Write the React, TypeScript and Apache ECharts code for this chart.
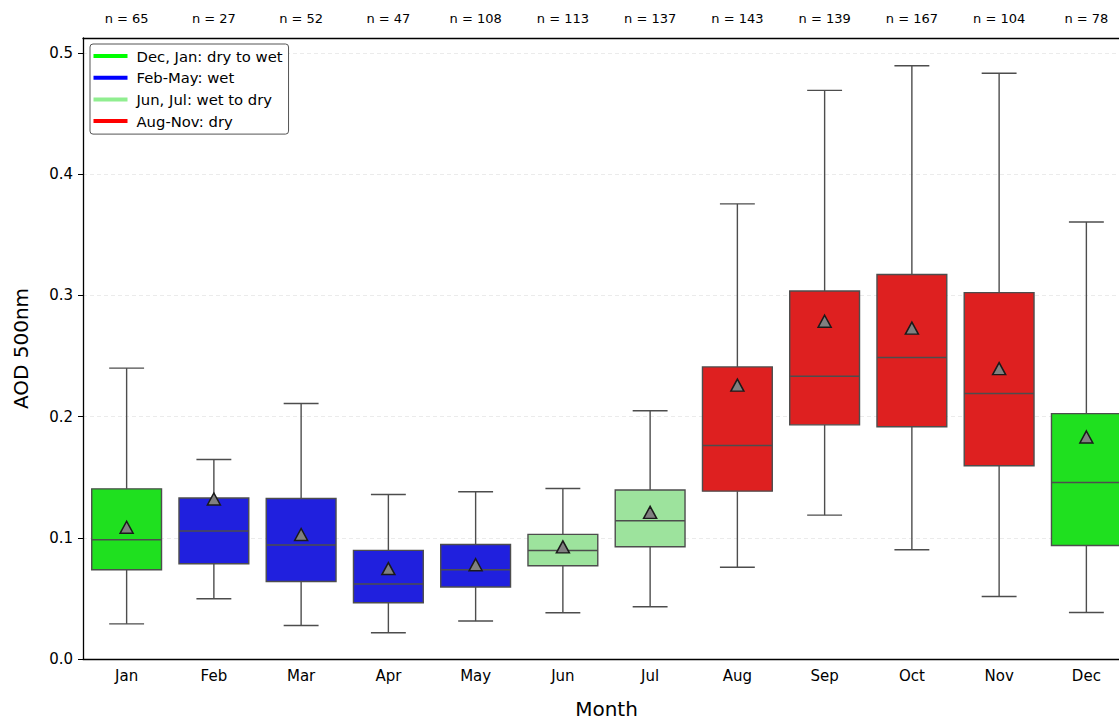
import React, { useEffect, useRef } from "react";
import * as echarts from "echarts";

const months = ["Jan", "Feb", "Mar", "Apr", "May", "Jun", "Jul", "Aug", "Sep", "Oct", "Nov", "Dec"];
const nCounts = [65, 27, 52, 47, 108, 113, 137, 143, 139, 167, 104, 78];
const whiskerLow = [0.029, 0.0497, 0.0277, 0.0217, 0.0313, 0.0382, 0.0431, 0.0757, 0.1187, 0.0901, 0.0516, 0.0384];
const q1 = [0.0736, 0.0786, 0.064, 0.0464, 0.0594, 0.077, 0.0926, 0.1385, 0.1932, 0.1916, 0.1594, 0.0937];
const medians = [0.0984, 0.1056, 0.094, 0.0618, 0.0736, 0.0896, 0.114, 0.1762, 0.2334, 0.2487, 0.219, 0.1456];
const q3 = [0.1404, 0.1328, 0.1324, 0.0896, 0.0945, 0.1028, 0.1394, 0.241, 0.3037, 0.3172, 0.3023, 0.2025];
const whiskerHigh = [0.24, 0.1646, 0.2108, 0.1357, 0.138, 0.1407, 0.2048, 0.3755, 0.4692, 0.4895, 0.4833, 0.3606];
const means = [0.1087, 0.132, 0.1027, 0.0746, 0.0778, 0.0925, 0.121, 0.226, 0.2787, 0.273, 0.2396, 0.1832];
const seasonOfMonth = [0, 1, 1, 1, 1, 2, 2, 3, 3, 3, 3, 0];
const seasonNames = ["Dec, Jan: dry to wet", "Feb-May: wet", "Jun, Jul: wet to dry", "Aug-Nov: dry"];
const legendColors = ["#00ff00", "#0000ff", "#90ee90", "#ff0000"];
const boxColors = ["#1fe01f", "#2020de", "#9de39d", "#de2020"];
const yTicks = [0, 0.1, 0.2, 0.3, 0.4, 0.5];

const FONT = "DejaVu Sans";
const EDGE = "#4d4d4d";

export default function App() {
  const ref = useRef<HTMLDivElement>(null);
  useEffect(() => {
    if (!ref.current) return;
    const chart = echarts.init(ref.current, null, { renderer: "svg" });
    const boxData = months.map((_, i) => [i, whiskerLow[i], q1[i], medians[i], q3[i], whiskerHigh[i], seasonOfMonth[i]]);
    const renderItem = (params: any, api: any) => {
      const x = api.value(0);
      const pLow = api.coord([x, api.value(1)]);
      const pQ1 = api.coord([x, api.value(2)]);
      const pMed = api.coord([x, api.value(3)]);
      const pQ3 = api.coord([x, api.value(4)]);
      const pHigh = api.coord([x, api.value(5)]);
      const color = boxColors[api.value(6)];
      const w = api.size([1, 0])[0] * 0.8;
      const cx = pLow[0];
      const lineStyle = { stroke: EDGE, lineWidth: 1.4 };
      return {
        type: "group",
        children: [
          { type: "line", shape: { x1: cx, y1: pQ1[1], x2: cx, y2: pLow[1] }, style: lineStyle },
          { type: "line", shape: { x1: cx, y1: pQ3[1], x2: cx, y2: pHigh[1] }, style: lineStyle },
          { type: "line", shape: { x1: cx - w / 4, y1: pLow[1], x2: cx + w / 4, y2: pLow[1] }, style: lineStyle },
          { type: "line", shape: { x1: cx - w / 4, y1: pHigh[1], x2: cx + w / 4, y2: pHigh[1] }, style: lineStyle },
          {
            type: "rect",
            shape: { x: cx - w / 2, y: pQ3[1], width: w, height: pQ1[1] - pQ3[1] },
            style: { fill: color, stroke: EDGE, lineWidth: 1.4 },
          },
          { type: "line", shape: { x1: cx - w / 2, y1: pMed[1], x2: cx + w / 2, y2: pMed[1] }, style: { stroke: EDGE, lineWidth: 1.5 } },
        ],
      };
    };
    const option: any = {
      animation: false,
      backgroundColor: "#ffffff",
      textStyle: { fontFamily: FONT },
      grid: { left: 83, top: 38, width: 1047, height: 621, containLabel: false, outerBoundsMode: "none" },
      legend: {
        left: 90,
        top: 44,
        orient: "vertical",
        icon: "rect",
        itemWidth: 34,
        itemHeight: 4,
        itemGap: 5.7,
        padding: [4, 6, 5, 3.5],
        borderColor: "#555",
        borderWidth: 1,
        borderRadius: 3,
        backgroundColor: "#ffffff",
        selectedMode: false,
        textStyle: { fontFamily: FONT, fontSize: 14.8, color: "#000", lineHeight: 16, padding: [0, 0, 0, 4] },
        data: seasonNames.map((n) => ({ name: n, icon: "rect" })),
      },
      xAxis: [
        {
          type: "category",
          data: months,
          position: "bottom",
          offset: 2,
          boundaryGap: true,
          axisLine: { lineStyle: { color: "#000", width: 1.3 } },
          axisTick: { alignWithLabel: true, length: 5, lineStyle: { color: "#000", width: 1 } },
          axisLabel: { color: "#000", fontSize: 15, fontFamily: FONT, margin: 7, interval: 0 },
          splitLine: { show: false },
          name: "Month",
          nameLocation: "middle",
          nameGap: 37,
          nameTextStyle: { color: "#000", fontSize: 20, fontFamily: FONT, lineHeight: 22 },
        },
        {
          type: "category",
          data: nCounts.map((n) => `n = ${n}`),
          position: "top",
          boundaryGap: true,
          axisLine: { show: true, lineStyle: { color: "#000", width: 1.3 } },
          axisTick: { show: false },
          axisLabel: { color: "#000", fontSize: 13, fontFamily: FONT, margin: 13, interval: 0 },
          splitLine: { show: false },
        },
      ],
      yAxis: {
        type: "value",
        min: 0,
        max: 0.5124,
        interval: 0.1,
        axisLine: { show: true, lineStyle: { color: "#000", width: 1.3 } },
        axisTick: { show: true, length: 5, lineStyle: { color: "#000", width: 1 } },
        axisLabel: {
          color: "#000",
          fontSize: 15,
          fontFamily: FONT,
          margin: 10,
          showMaxLabel: false,
          formatter: (v: number) => (yTicks.some((t) => Math.abs(t - v) < 1e-6) ? v.toFixed(1) : ""),
        },
        splitLine: { show: true, lineStyle: { color: "#e6e6e6", type: [4, 3], width: 0.8 } },
        name: "AOD 500nm",
        nameLocation: "middle",
        nameGap: 52,
        nameTextStyle: { color: "#000", fontSize: 20, fontFamily: FONT },
      },
      series: [
        {
          type: "custom",
          xAxisIndex: 0,
          renderItem,
          encode: { x: 0, y: [1, 2, 3, 4, 5] },
          data: boxData,
          z: 2,
        },
        {
          type: "scatter",
          xAxisIndex: 0,
          data: means.map((v, i) => [i, v]),
          symbol: "triangle",
          symbolSize: [13, 12],
          itemStyle: { color: "#808080", borderColor: "#1a1a1a", borderWidth: 1.5, opacity: 1 },
          z: 5,
        },
        ...seasonNames.map((name, i) => ({
          type: "line",
          name,
          xAxisIndex: 0,
          data: [],
          itemStyle: { color: legendColors[i] },
          lineStyle: { color: legendColors[i] },
        })),
      ],
    };
    chart.setOption(option);
    return () => chart.dispose();
  }, []);
  return (
    <div style={{ position: "absolute", left: 0, top: 0, width: 1119, height: 720, overflow: "hidden" }}>
      <div ref={ref} style={{ width: 1119, height: 720 }} />
    </div>
  );
}
